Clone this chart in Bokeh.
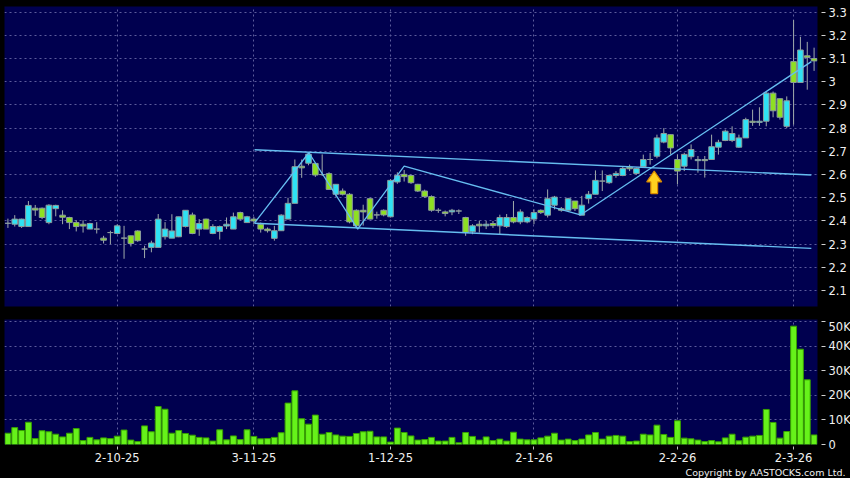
from bokeh.plotting import figure
from bokeh.layouts import column
from bokeh.models import ColumnDataSource, FixedTicker, Range1d, Title
from bokeh.embed import file_html
from bokeh.resources import INLINE

# ---------------- data ----------------
tick_index = [16, 36, 56, 77, 98, 115]
tick_labels = ["2-10-25", "3-11-25", "1-12-25", "2-1-26", "2-2-26", "2-3-26"]

price_ticks = [2.1, 2.2, 2.3, 2.4, 2.5, 2.6, 2.7, 2.8, 2.9, 3.0, 3.1, 3.2, 3.3]
price_tick_labels = ["2.1", "2.2", "2.3", "2.4", "2.5", "2.6", "2.7", "2.8", "2.9", "3", "3.1", "3.2", "3.3"]
vol_ticks = [0, 10000, 20000, 30000, 40000, 50000]
vol_tick_labels = ["0", "10K", "20K", "30K", "40K", "50K"]

opens = [2.39, 2.386, 2.376, 2.376, 2.455, 2.455, 2.393, 2.453, 2.425, 2.415,
         2.393, 2.386, 2.365, 2.365, 2.326, 2.35, 2.346, 2.326, 2.336, 2.357,
         2.279, 2.286, 2.286, 2.332, 2.326, 2.332, 2.376, 2.426, 2.365, 2.408,
         2.346, 2.355, 2.378, 2.365, 2.436, 2.393, 2.408, 2.386, 2.365, 2.325,
         2.358, 2.408, 2.476, 2.636, 2.649, 2.648, 2.60, 2.604, 2.515, 2.529,
         2.515, 2.446, 2.446, 2.496, 2.426, 2.446, 2.418, 2.568, 2.601, 2.596,
         2.558, 2.529, 2.505, 2.446, 2.439, 2.439, 2.443, 2.415, 2.353, 2.386,
         2.379, 2.389, 2.379, 2.376, 2.415, 2.396, 2.396, 2.408, 2.446, 2.425,
         2.468, 2.453, 2.446, 2.486, 2.425, 2.496, 2.515, 2.572, 2.565, 2.596,
         2.596, 2.632, 2.605, 2.634, 2.665, 2.679, 2.74, 2.772, 2.665, 2.636,
         2.677, 2.66, 2.665, 2.665, 2.718, 2.747, 2.747, 2.718, 2.758, 2.83,
         2.825, 2.83, 2.951, 2.927, 2.808, 3.087, 2.997, 3.112, 3.10]
highs = [2.41, 2.425, 2.41, 2.486, 2.469, 2.458, 2.472, 2.47, 2.446, 2.418,
         2.403, 2.403, 2.392, 2.395, 2.336, 2.358, 2.386, 2.379, 2.336, 2.36,
         2.293, 2.315, 2.43, 2.395, 2.429, 2.418, 2.446, 2.436, 2.408, 2.41,
         2.386, 2.38, 2.415, 2.436, 2.44, 2.422, 2.418, 2.393, 2.372, 2.379,
         2.429, 2.50, 2.665, 2.665, 2.693, 2.65, 2.687, 2.61, 2.558, 2.54,
         2.52, 2.45, 2.47, 2.50, 2.44, 2.45, 2.58, 2.61, 2.62, 2.60,
         2.56, 2.535, 2.51, 2.455, 2.445, 2.452, 2.45, 2.418, 2.386, 2.401,
         2.40, 2.40, 2.427, 2.43, 2.486, 2.45, 2.42, 2.45, 2.45, 2.536,
         2.508, 2.46, 2.50, 2.486, 2.508, 2.529, 2.618, 2.618, 2.60, 2.615,
         2.636, 2.643, 2.63, 2.686, 2.693, 2.772, 2.80, 2.772, 2.687, 2.694,
         2.73, 2.68, 2.68, 2.772, 2.75, 2.794, 2.808, 2.772, 2.845, 2.88,
         2.89, 2.958, 2.958, 2.927, 2.937, 3.266, 3.194, 3.172, 3.147]
lows = [2.37, 2.376, 2.37, 2.376, 2.422, 2.408, 2.386, 2.42, 2.386, 2.365,
        2.355, 2.35, 2.365, 2.346, 2.303, 2.30, 2.343, 2.237, 2.29, 2.31,
        2.24, 2.265, 2.286, 2.32, 2.326, 2.33, 2.372, 2.343, 2.336, 2.365,
        2.343, 2.32, 2.365, 2.365, 2.403, 2.393, 2.386, 2.35, 2.35, 2.315,
        2.358, 2.408, 2.476, 2.586, 2.64, 2.59, 2.594, 2.536, 2.505, 2.51,
        2.39, 2.37, 2.38, 2.408, 2.41, 2.42, 2.415, 2.56, 2.57, 2.56,
        2.525, 2.50, 2.44, 2.435, 2.42, 2.425, 2.43, 2.336, 2.343, 2.35,
        2.365, 2.37, 2.343, 2.37, 2.39, 2.386, 2.39, 2.386, 2.43, 2.415,
        2.45, 2.44, 2.446, 2.443, 2.425, 2.475, 2.515, 2.529, 2.56, 2.586,
        2.593, 2.615, 2.60, 2.629, 2.643, 2.67, 2.735, 2.686, 2.558, 2.615,
        2.665, 2.608, 2.587, 2.665, 2.686, 2.744, 2.74, 2.715, 2.758, 2.81,
        2.81, 2.808, 2.847, 2.837, 2.80, 2.815, 2.997, 2.966, 3.047]
closes = [2.39, 2.408, 2.408, 2.467, 2.447, 2.415, 2.468, 2.467, 2.416, 2.393,
          2.376, 2.378, 2.389, 2.365, 2.317, 2.35, 2.379, 2.326, 2.303, 2.315,
          2.279, 2.305, 2.408, 2.365, 2.357, 2.418, 2.446, 2.346, 2.389, 2.365,
          2.376, 2.376, 2.386, 2.418, 2.408, 2.418, 2.40, 2.365, 2.358, 2.358,
          2.425, 2.476, 2.634, 2.629, 2.688, 2.598, 2.60, 2.536, 2.558, 2.515,
          2.396, 2.379, 2.439, 2.408, 2.426, 2.426, 2.575, 2.596, 2.591, 2.565,
          2.529, 2.505, 2.446, 2.446, 2.432, 2.446, 2.443, 2.35, 2.379, 2.379,
          2.386, 2.38, 2.415, 2.415, 2.396, 2.439, 2.415, 2.436, 2.436, 2.496,
          2.503, 2.446, 2.496, 2.453, 2.468, 2.515, 2.575, 2.572, 2.596, 2.605,
          2.626, 2.625, 2.626, 2.665, 2.665, 2.758, 2.777, 2.715, 2.615, 2.687,
          2.708, 2.665, 2.66, 2.72, 2.739, 2.787, 2.777, 2.758, 2.837, 2.825,
          2.83, 2.951, 2.875, 2.847, 2.918, 2.997, 3.137, 3.105, 3.09]
volumes = [4600, 6900, 5700, 9100, 2400, 5600, 5200, 4200, 3100, 4600,
           6500, 1600, 2900, 1900, 2700, 2400, 3400, 5900, 1800, 1200,
           7600, 5200, 15500, 14400, 4600, 5700, 4500, 3800, 2900, 2700,
           1400, 6000, 1900, 3500, 2000, 6000, 3300, 2300, 2400, 2900,
           4800, 16900, 21900, 10500, 8300, 12000, 4200, 4900, 3900, 3400,
           3300, 4500, 5200, 5400, 3100, 3100, 1000, 6700, 4900, 3500,
           1800, 2000, 2900, 1400, 1400, 2900, 700, 4900, 3300, 1800,
           3100, 1600, 2200, 1400, 5000, 2200, 1900, 1900, 2700, 3400,
           4600, 1800, 2200, 1600, 2200, 3900, 4900, 2200, 3400, 3700,
           3400, 1200, 1400, 4200, 3900, 7900, 4100, 2900, 9700, 2600,
           2300, 1800, 1200, 1600, 1100, 2700, 4200, 1500, 3000, 3400,
           3700, 14300, 9000, 2600, 5300, 48300, 38900, 26400, 3900]

# drawn trend lines (bar index, price)
channel_upper_x = [36.1, 117.6]
channel_upper_y = [2.707, 2.598]
channel_lower_x = [36.1, 117.6]
channel_lower_y = [2.39, 2.282]
zigzag_x = [36.1, 44.05, 51.2, 58.0, 83.8, 117.6]
zigzag_y = [2.392, 2.694, 2.365, 2.636, 2.426, 3.087]

# signal arrow
arrow_index = 94.6
arrow_top = 2.615
arrow_bottom = 2.518

# ---------------- styling ----------------
NAVY = "#00004f"
GRID = "#5c5c9c"
UP = "#2fe2f4"
DOWN = "#8ee022"
EDGE = "#8c9c9c"
WICK = "#a0abab"
TXT = "#f0f0f0"
FONT = "DejaVu Sans"
LINE = "#66bdf0"

n = len(closes)
idx = list(range(n))
body_top = [max(o, c) for o, c in zip(opens, closes)]
body_bot = [min(o, c) for o, c in zip(opens, closes)]
colors = [UP if c > o else DOWN for o, c in zip(opens, closes)]

src = ColumnDataSource(dict(x=idx, o=opens, h=highs, l=lows, c=closes,
                            top=body_top, bot=body_bot, color=colors, vol=volumes))

xr = Range1d(-0.5, n - 0.5)

p1 = figure(frame_width=813, frame_height=300, x_range=xr,
            y_range=Range1d(2.0313, 3.3245), output_backend="svg",
            toolbar_location=None, y_axis_location="right",
            min_border_left=4, min_border_top=6, min_border_bottom=13,
            min_border_right=33, background_fill_color=NAVY,
            border_fill_color="black", outline_line_color=None)
p1.xaxis.visible = False


def style_y(ax, ticks, labels):
    ax.ticker = FixedTicker(ticks=ticks)
    ax.major_label_overrides = {t: s for t, s in zip(ticks, labels)}
    ax.axis_line_color = None
    ax.major_tick_line_color = "#d0d0d0"
    ax.major_tick_in = -4
    ax.major_tick_out = 8
    ax.minor_tick_line_color = None
    ax.major_label_text_color = TXT
    ax.major_label_text_font = FONT
    ax.major_label_text_font_size = "11.5px"
    ax.major_label_standoff = 3


style_y(p1.yaxis[0], price_ticks, price_tick_labels)
p1.ygrid.ticker = FixedTicker(ticks=price_ticks)
p1.xgrid.ticker = FixedTicker(ticks=tick_index)
for g in (p1.xgrid, p1.ygrid):
    g.grid_line_color = GRID
    g.grid_line_dash = "2 3"
    g.grid_line_width = 1

# candles
p1.segment(x0="x", y0="h", x1="x", y1="l", source=src, line_color=WICK, line_width=1)
p1.vbar(x="x", top="top", bottom="bot", width=0.82, source=src,
        fill_color="color", line_color=EDGE, line_width=1)

# trend lines
p1.line(channel_upper_x, channel_upper_y, line_color=LINE, line_width=1.4)
p1.line(channel_lower_x, channel_lower_y, line_color=LINE, line_width=1.4)
p1.line(zigzag_x, zigzag_y, line_color=LINE, line_width=1.3)

# arrow
head_w = 1.1
shaft_w = 0.5
head_h = (arrow_top - arrow_bottom) * 0.48
ax_ = [arrow_index, arrow_index + head_w, arrow_index + shaft_w, arrow_index + shaft_w,
       arrow_index - shaft_w, arrow_index - shaft_w, arrow_index - head_w]
ay_ = [arrow_top, arrow_top - head_h, arrow_top - head_h, arrow_bottom,
       arrow_bottom, arrow_top - head_h, arrow_top - head_h]
p1.patch(ax_, ay_, fill_color="#ffd21f", line_color="#d98a00", line_width=1.2)

# volume
p2 = figure(frame_width=813, frame_height=125, x_range=xr,
            y_range=Range1d(0, 51020), output_backend="svg",
            toolbar_location=None, y_axis_location="right",
            min_border_left=4, min_border_top=0, min_border_right=33,
            min_border_bottom=34,
            background_fill_color=NAVY, border_fill_color="black",
            outline_line_color=None)
style_y(p2.yaxis[0], vol_ticks, vol_tick_labels)
xa = p2.xaxis[0]
xa.ticker = FixedTicker(ticks=tick_index)
xa.major_label_overrides = {t: s for t, s in zip(tick_index, tick_labels)}
xa.axis_line_color = None
xa.major_tick_line_color = "#c0c0c0"
xa.major_tick_in = -2
xa.major_tick_out = 5
xa.minor_tick_line_color = None
xa.major_label_text_color = TXT
xa.major_label_text_font = FONT
xa.major_label_text_font_size = "11.5px"
xa.major_label_standoff = 3
p2.ygrid.ticker = FixedTicker(ticks=vol_ticks)
p2.xgrid.ticker = FixedTicker(ticks=tick_index)
for g in (p2.xgrid, p2.ygrid):
    g.grid_line_color = GRID
    g.grid_line_dash = "2 3"
    g.grid_line_width = 1

p2.vbar(x="x", top="vol", bottom=0, width=0.86, source=src,
        fill_color="#66f21a", line_color="#38a000", line_width=1)

p2.add_layout(Title(text="Copyright by AASTOCKS.com Ltd.", align="right",
                    text_color=TXT, text_font=FONT, text_font_size="9.5px",
                    text_font_style="normal", offset=-28, standoff=0), "below")

layout = column(p1, p2, spacing=0, styles={"background-color": "black"})
open("out.html", "w").write(file_html(layout, INLINE))
